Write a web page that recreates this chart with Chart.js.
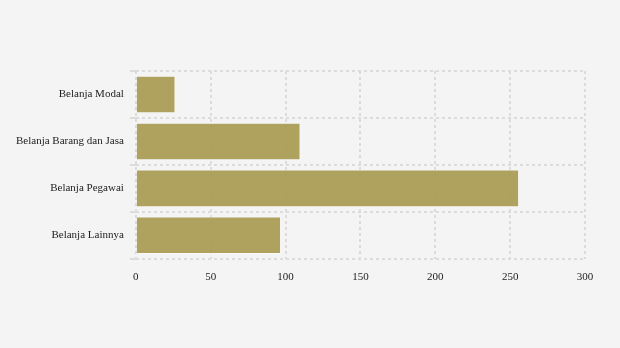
<!DOCTYPE html>
<html>
<head>
<meta charset="utf-8">
<script src="https://cdn.jsdelivr.net/npm/chart.js@4/dist/chart.umd.min.js"></script>
<style>
  html, body { margin: 0; padding: 0; background: #f4f4f4; }
  #wrap { width: 620px; height: 348px; }
</style>
</head>
<body>
<div id="wrap"><canvas id="myChart" width="620" height="348"></canvas></div>
<script>
// kategori belanja dan nilainya
const categories = ['Belanja Modal', 'Belanja Barang dan Jasa', 'Belanja Pegawai', 'Belanja Lainnya'];
const values = [26.5, 110, 256, 97];
const xTicks = [0, 50, 100, 150, 200, 250, 300];

const gridColor = '#dcdcdc';
const font = { family: "'Liberation Serif', 'DejaVu Serif', serif", size: 11 };

var ctx = document.getElementById('myChart').getContext('2d');

var chart = new Chart(ctx, {
    type: 'bar',
    data: {
        labels: categories,
        datasets: [{
            data: values,
            backgroundColor: 'rgba(168,153,80,0.92)',
            borderColor: 'rgba(255,255,255,0.5)',
            borderWidth: 1,
            categoryPercentage: 0.8,
            barPercentage: 1
        }]
    },
    options: {
        indexAxis: 'y',
        responsive: false,
        animation: false,
        layout: { padding: { top: 71, right: 35, bottom: 52, left: 10 } },
        plugins: { legend: { display: false }, tooltip: { enabled: false } },
        scales: {
            x: {
                min: 0,
                max: 300,
                afterBuildTicks: axis => { axis.ticks = xTicks.map(v => ({ value: v })); },
                grid: { color: gridColor, lineWidth: 2, drawTicks: false, tickLength: 0 },
                border: { display: false, dash: [3, 3] },
                ticks: { color: '#222', font: font, padding: 12 }
            },
            y: {
                grid: { color: gridColor, lineWidth: 2, tickLength: 6, offset: true },
                border: { display: false, dash: [3, 3] },
                ticks: { color: '#222', font: font, padding: 6 }
            }
        }
    }
});
</script>
</body>
</html>
